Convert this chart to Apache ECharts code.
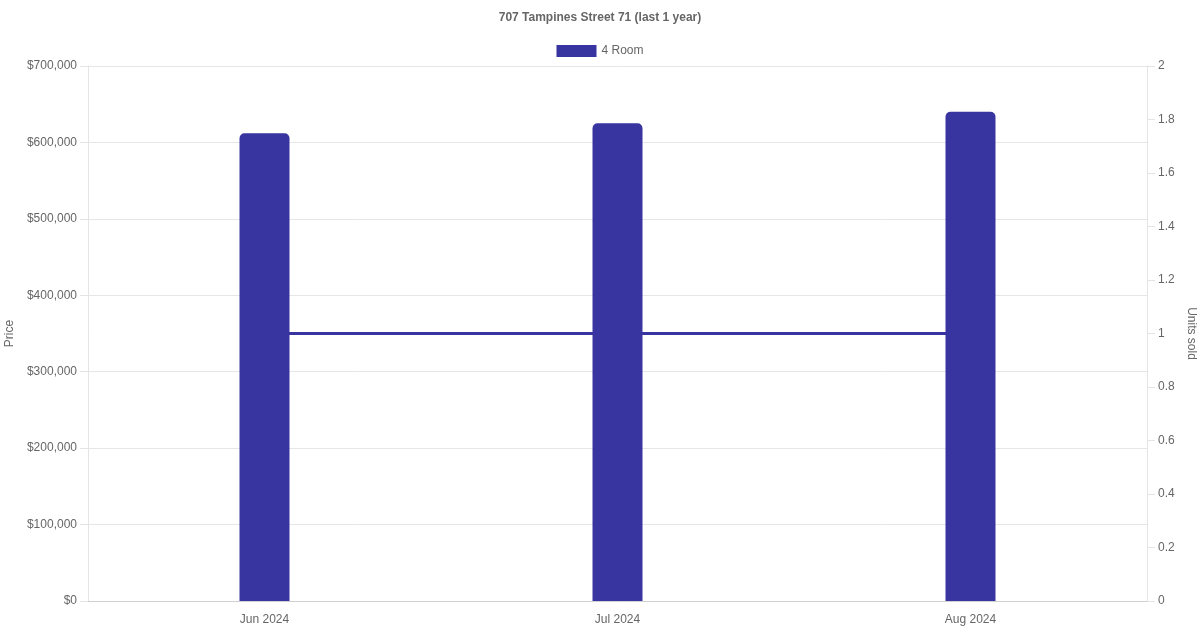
<!DOCTYPE html>
<html>
<head>
<meta charset="utf-8">
<script src="https://cdn.jsdelivr.net/npm/echarts@6/dist/echarts.min.js"></script>
<style>
html,body{margin:0;padding:0;background:#fff;}
#chart{width:1200px;height:630px;}
</style>
</head>
<body>
<div id="chart"></div>
<script>
const categories = ['Jun 2024', 'Jul 2024', 'Aug 2024'];
const prices = [612000, 625000, 640000];
const unitsSold = [1, 1, 1];
const seriesName = '4 Room';
const titleText = '707 Tampines Street 71 (last 1 year)';

const FONT = '"Liberation Sans", Arial, Helvetica, sans-serif';
const COLOR = '#3834a0';

const chart = echarts.init(document.getElementById('chart'));
chart.setOption({
  animation: false,
  backgroundColor: '#fff',
  textStyle: { fontFamily: FONT },
  title: {
    text: titleText,
    left: 'center',
    top: 7,
    textStyle: { fontSize: 12, fontWeight: 'bold', color: '#666', fontFamily: FONT }
  },
  legend: {
    data: [seriesName],
    top: 40,
    left: 'center',
    itemWidth: 40,
    itemHeight: 12,
    itemGap: 10,
    icon: 'rect',
    textStyle: { fontSize: 12, color: '#666', fontFamily: FONT }
  },
  grid: { left: 88, right: 53, top: 66, bottom: 29, containLabel: false, outerBoundsMode: 'none' },
  xAxis: {
    type: 'category',
    data: categories,
    axisLine: { show: true, lineStyle: { color: '#d0d0d0', width: 1 } },
    axisTick: { show: false },
    axisLabel: { color: '#666', fontSize: 12, margin: 13, fontFamily: FONT },
    splitLine: { show: false }
  },
  yAxis: [
    {
      type: 'value',
      min: 0,
      max: 700000,
      interval: 100000,
      position: 'left',
      name: 'Price',
      nameLocation: 'middle',
      nameRotate: 90,
      nameGap: 67,
      nameTextStyle: { color: '#666', fontSize: 12, fontFamily: FONT },
      axisLine: { show: true, lineStyle: { color: '#e4e4e4' } },
      axisTick: { show: true, length: 8, lineStyle: { color: '#e4e4e4' } },
      axisLabel: {
        color: '#666', fontSize: 12, margin: 11, fontFamily: FONT, padding: [2, 0, 0, 0],
        formatter: v => '$' + v.toLocaleString('en-US')
      },
      splitLine: { show: true, lineStyle: { color: '#e6e6e6' } }
    },
    {
      type: 'value',
      min: 0,
      max: 2,
      interval: 0.2,
      position: 'right',
      name: 'Units sold',
      nameLocation: 'middle',
      nameRotate: -90,
      nameGap: 34,
      nameTextStyle: { color: '#666', fontSize: 12, fontFamily: FONT },
      axisLine: { show: true, lineStyle: { color: '#e4e4e4' } },
      axisTick: { show: true, length: 8, lineStyle: { color: '#e4e4e4' } },
      axisLabel: {
        color: '#666', fontSize: 12, margin: 11, fontFamily: FONT, padding: [2, 0, 0, 0],
        formatter: v => String(Math.round(v * 10) / 10)
      },
      splitLine: { show: false }
    }
  ],
  series: [
    {
      name: seriesName,
      type: 'bar',
      data: prices,
      yAxisIndex: 0,
      barWidth: 50,
      z: 3,
      itemStyle: { color: COLOR, borderRadius: [5, 5, 0, 0] }
    },
    {
      name: 'Units sold',
      type: 'line',
      data: unitsSold,
      yAxisIndex: 1,
      symbol: 'none',
      z: 1,
      lineStyle: { color: COLOR, width: 3 },
      itemStyle: { color: COLOR }
    }
  ]
});
</script>
</body>
</html>
